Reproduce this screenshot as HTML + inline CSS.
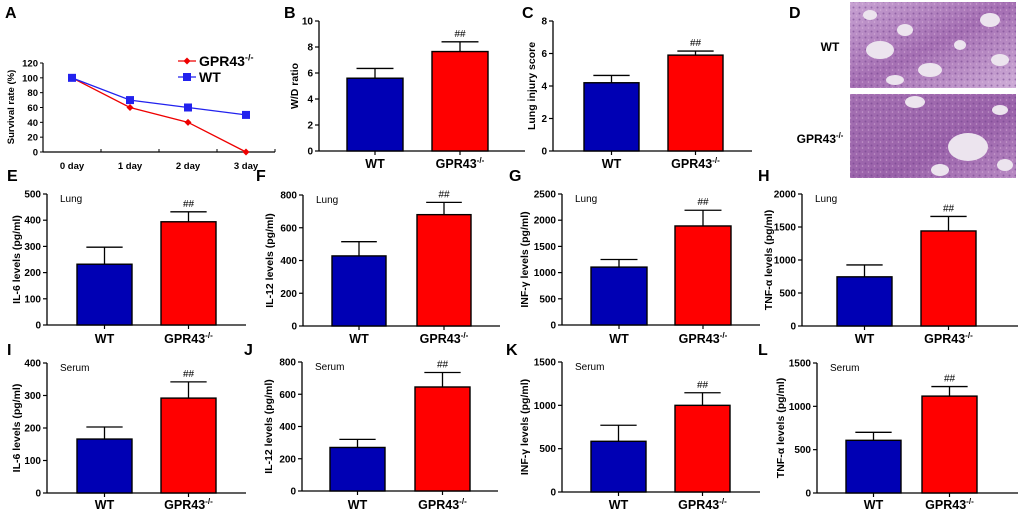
<!DOCTYPE html>
<html><head><meta charset="utf-8"><style>
body{margin:0;background:#fff;}
svg{display:block;font-family:"Liberation Sans",Arial,sans-serif;}
</style></head><body>
<svg id="fig" width="1020" height="514" viewBox="0 0 1020 514"></svg>
<script>
// Panel A data
const daysA = ["0 day","1 day","2 day","3 day"];
const gprA = [100,60,40,0];
const wtA = [100,70,60,50];
const ticksA = [0,20,40,60,80,100,120];
// Bar panels data
const groups = ["WT","GPR43-/-"];
const panelLetters = ["B","C","E","F","G","H","I","J","K","L"];
const panelTitles = ["W/D ratio","Lung injury score","IL-6 levels (pg/ml)","IL-12 levels (pg/ml)","INF-γ levels (pg/ml)","TNF-α levels (pg/ml)","IL-6 levels (pg/ml)","IL-12 levels (pg/ml)","INF-γ levels (pg/ml)","TNF-α levels (pg/ml)"];
const panelTags = ["","","Lung","Lung","Lung","Lung","Serum","Serum","Serum","Serum"];
const wtMeans = [5.6,4.2,232,428,1105,745,166,270,585,608];
const wtErr = [0.75,0.45,65,87,145,180,37,50,185,92];
const koMeans = [7.65,5.9,394,680,1890,1440,292,645,1000,1118];
const koErr = [0.75,0.25,38,75,300,220,50,90,145,110];
const axisMax = [10,8,500,800,2500,2000,400,800,1500,1500];
const axisStep = [2,2,100,200,500,500,100,200,500,500];

const NS="http://www.w3.org/2000/svg";
const svg=document.getElementById('fig');
function el(tag,attrs,parent,text){const e=document.createElementNS(NS,tag);for(const k in attrs)e.setAttribute(k,attrs[k]);if(text!==undefined)e.textContent=text;(parent||svg).appendChild(e);return e;}
function gpr(parent,x,y,size,anchor){const t=el('text',{x:x,y:y,'font-size':size,'font-weight':'bold','text-anchor':anchor||'middle'},parent);t.textContent='GPR43';const s=el('tspan',{'font-size':size*0.65,dy:-size*0.4},t);s.textContent='-/-';return t;}

// Letters
const letterPos=[["A",5,18],["B",284,18],["C",522,18],["D",789,18],["E",7,181],["F",256,181],["G",509,181],["H",758,181],["I",7,355],["J",244,355],["K",506,355],["L",758,355]];
letterPos.forEach(p=>{const t=el('text',{x:p[1],y:p[2],'font-size':16,'font-weight':'bold'},svg,p[0]);});

// Panel A
(function(){
 const g=el('g',{});
 const x0=43,x1=275,y0=152,yTop=63;
 const ys=v=>y0-(v/120)*(y0-yTop);
 const xs=i=>72+i*58;
 el('line',{x1:x0,y1:y0,x2:x1,y2:y0,stroke:'#000','stroke-width':1.2},g);
 el('line',{x1:x0,y1:yTop,x2:x0,y2:y0,stroke:'#000','stroke-width':1.2},g);
 ticksA.forEach(v=>{el('line',{x1:x0-3,y1:ys(v),x2:x0,y2:ys(v),stroke:'#000'},g);el('text',{x:x0-5,y:ys(v)+3.5,'font-size':9.5,'font-weight':'bold','text-anchor':'end'},g,v);});
 [0,1,2,3].forEach(i=>{const tx=x0+(i+1)*58; el('line',{x1:tx,y1:y0,x2:tx,y2:y0-3,stroke:'#000'},g);});
 daysA.forEach((d,i)=>el('text',{x:xs(i),y:169,'font-size':9.5,'font-weight':'bold','text-anchor':'middle'},g,d));
 el('text',{x:0,y:0,'font-size':9.5,'font-weight':'bold','text-anchor':'middle',transform:'translate(14,107) rotate(-90)'},g,'Survival rate (%)');
 const lg=el('polyline',{points:gprA.map((v,i)=>xs(i)+','+ys(v)).join(' '),fill:'none',stroke:'#e00','stroke-width':1.3},g);
 
 gprA.forEach((v,i)=>el('polygon',{points:`${xs(i)},${ys(v)-3.5} ${xs(i)+3.5},${ys(v)} ${xs(i)},${ys(v)+3.5} ${xs(i)-3.5},${ys(v)}`,fill:'#e00'},g));
 const lw=el('polyline',{points:wtA.map((v,i)=>xs(i)+','+ys(v)).join(' '),fill:'none',stroke:'#22e','stroke-width':1.3},g);
 
 wtA.forEach((v,i)=>el('rect',{x:xs(i)-4,y:ys(v)-4,width:8,height:8,fill:'#22e'},g));
 const leg=el('g',{},g);
 el('line',{x1:178,y1:61,x2:196,y2:61,stroke:'#e00','stroke-width':1.3},leg);
 el('polygon',{points:'187,57.5 190.5,61 187,64.5 183.5,61',fill:'#e00'},leg);
 gpr(leg,199,66,14,'start');
 el('line',{x1:178,y1:77,x2:196,y2:77,stroke:'#22e','stroke-width':1.3},leg);
 el('rect',{x:183,y:73,width:8,height:8,fill:'#22e'},leg);
 el('text',{x:199,y:82,'font-size':14,'font-weight':'bold'},leg,'WT');
})();

// Bar panel geometry (ax = y-axis x, tx = y-title x, lab = x-label baseline)
const geo=[
 {ax:319,top:21,bot:151,b1:347,b2:432,bw:56,end:525,tx:294,lab:168},
 {ax:553,top:21,bot:151,b1:584,b2:668,bw:55,end:752,tx:531,lab:168},
 {ax:47,top:194,bot:325,b1:77,b2:161,bw:55,end:246,tx:16,lab:343},
 {ax:303,top:195,bot:326,b1:332,b2:417,bw:54,end:500,tx:269,lab:343},
 {ax:562,top:194,bot:325,b1:591,b2:675,bw:56,end:760,tx:524,lab:343},
 {ax:802,top:194,bot:326,b1:837,b2:921,bw:55,end:1018,tx:768,lab:343},
 {ax:47,top:363,bot:493,b1:77,b2:161,bw:55,end:246,tx:16,lab:509},
 {ax:302,top:362,bot:491,b1:330,b2:415,bw:55,end:498,tx:268,lab:509},
 {ax:562,top:362,bot:492,b1:591,b2:675,bw:55,end:760,tx:524,lab:509},
 {ax:817,top:363,bot:493,b1:846,b2:922,bw:55,end:1018,tx:780,lab:509}];

geo.forEach((G,p)=>{
 const g=el('g',{});
 const ys=v=>G.bot-(v/axisMax[p])*(G.bot-G.top);
 el('line',{x1:G.ax,y1:G.top,x2:G.ax,y2:G.bot,stroke:'#000','stroke-width':1.3},g);
 el('line',{x1:G.ax,y1:G.bot,x2:G.end,y2:G.bot,stroke:'#000','stroke-width':1.3},g);
 for(let v=0;v<=axisMax[p]+1e-9;v+=axisStep[p]){
  el('line',{x1:G.ax-4,y1:ys(v),x2:G.ax,y2:ys(v),stroke:'#000','stroke-width':1.2},g);
  el('text',{x:G.ax-6,y:ys(v)+3.5,'font-size':10,'font-weight':'bold','text-anchor':'end'},g,v);
 }
 const midY=(G.top+G.bot)/2;
 el('text',{'font-size':10.5,'font-weight':'bold','text-anchor':'middle',transform:`translate(${G.tx+4},${midY}) rotate(-90)`},g,panelTitles[p]);
 if(panelTags[p]) el('text',{x:G.ax+13,y:G.top+8,'font-size':10},g,panelTags[p]);
 const vals=[wtMeans[p],koMeans[p]],errs=[wtErr[p],koErr[p]],xsb=[G.b1,G.b2],cols=['#0000b4','#ff0000'];
 vals.forEach((v,i)=>{
  const cx=xsb[i]+G.bw/2;
  el('line',{x1:cx,y1:ys(v),x2:cx,y2:ys(v+errs[i]),stroke:'#000','stroke-width':1.3},g);
  el('line',{x1:cx-G.bw*0.33,y1:ys(v+errs[i]),x2:cx+G.bw*0.33,y2:ys(v+errs[i]),stroke:'#000','stroke-width':1.3},g);
  const r=el('rect',{x:xsb[i],y:ys(v),width:G.bw,height:ys(0)-ys(v),fill:cols[i],stroke:'#000','stroke-width':1.4},g);
  
  el('line',{x1:cx,y1:G.bot,x2:cx,y2:G.bot+4,stroke:'#000','stroke-width':1.2},g);
  if(i===0) el('text',{x:cx,y:G.lab,'font-size':12.5,'font-weight':'bold','text-anchor':'middle'},g,groups[0]);
  else { gpr(g,cx,G.lab,12.5,'middle'); el('text',{x:cx,y:ys(v+errs[i])-5,'font-size':10,'text-anchor':'middle'},g,'##'); }
 });
});

// Panel D histology images
(function(){
 const g=el('g',{});
 const defs=el('defs',{},g);
 const lg=el('linearGradient',{id:'hist',x1:0,y1:0,x2:1,y2:1},defs);
 el('stop',{offset:0,'stop-color':'#c7a2d2'},lg);el('stop',{offset:0.5,'stop-color':'#a56fb3'},lg);el('stop',{offset:1,'stop-color':'#cfaed8'},lg);
 const lg2=el('linearGradient',{id:'hist2',x1:0,y1:0,x2:1,y2:1},defs);
 el('stop',{offset:0,'stop-color':'#a470b2'},lg2);el('stop',{offset:0.6,'stop-color':'#9a62aa'},lg2);el('stop',{offset:1,'stop-color':'#b88ac3'},lg2);
 const pt=el('pattern',{id:'dots',width:6,height:6,patternUnits:'userSpaceOnUse'},defs);
 el('circle',{cx:1.5,cy:1.5,r:1,fill:'#6a3a86',opacity:0.5},pt);
 el('circle',{cx:4.5,cy:4,r:0.8,fill:'#e8c8e6',opacity:0.5},pt);
 const r1=el('rect',{x:850,y:2,width:166,height:86,fill:'url(#hist)'},g);
 el('rect',{x:850,y:2,width:166,height:86,fill:'url(#dots)'},g);
 [[880,50,14,9],[905,30,8,6],[930,70,12,7],[990,20,10,7],[960,45,6,5],[1000,60,9,6],[870,15,7,5],[895,80,9,5]].forEach(b=>el('ellipse',{cx:b[0],cy:b[1],rx:b[2],ry:b[3],fill:'#ece4ee'},g));
 const r2=el('rect',{x:850,y:94,width:166,height:84,fill:'url(#hist2)'},g);
 el('rect',{x:850,y:94,width:166,height:84,fill:'url(#dots)'},g);
 [[968,147,20,14],[915,102,10,6],[1000,110,8,5],[940,170,9,6],[1005,165,8,6]].forEach(b=>el('ellipse',{cx:b[0],cy:b[1],rx:b[2],ry:b[3],fill:'#ece4ee'},g));
 el('text',{x:830,y:51,'font-size':12,'font-weight':'bold','text-anchor':'middle'},g,'WT');
 gpr(g,820,143,12,'middle');
})();
</script>
</body></html>
